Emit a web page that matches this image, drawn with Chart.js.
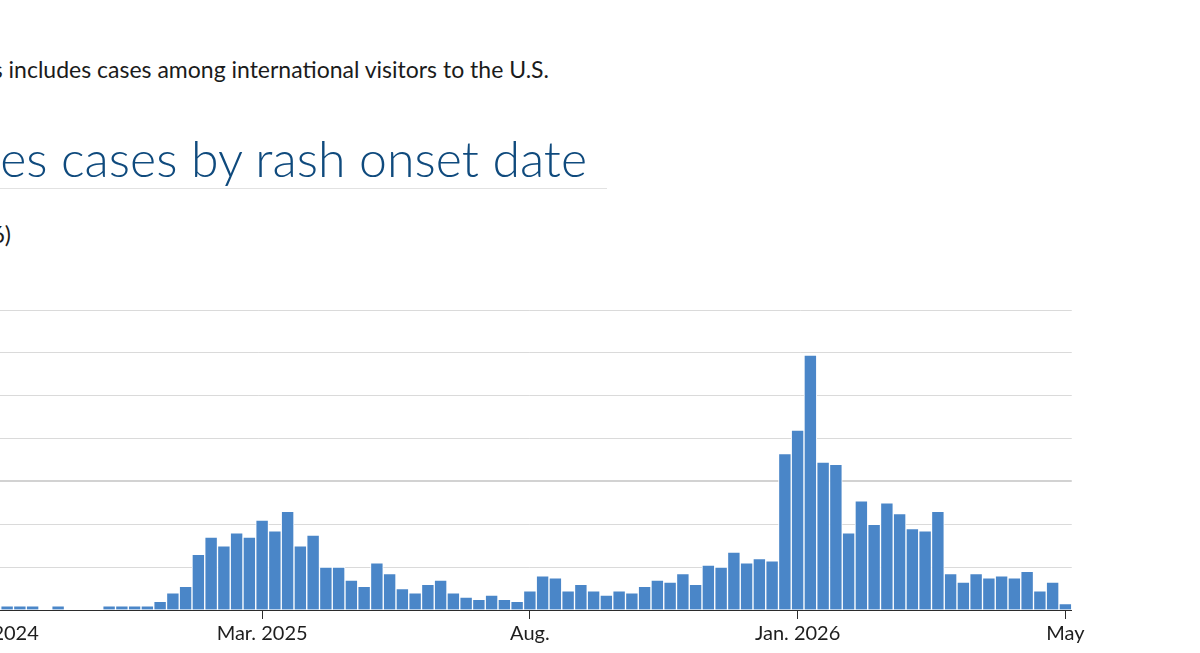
<!DOCTYPE html>
<html>
<head>
<meta charset="utf-8">
<script src="https://cdn.jsdelivr.net/npm/chart.js@4.4.1/dist/chart.umd.min.js"></script>
<style>
    html, body { margin: 0; padding: 0; background: #fff; }
    body { width: 1200px; height: 653px; overflow: hidden; position: relative; font-family: 'Lato', 'Open Sans', sans-serif; }
    .nota { position: absolute; right: 651px; top: 56px; font-size: 23px; line-height: 1.2; color: #1b1b1b; white-space: nowrap; }
    .titulo { position: absolute; right: 613px; top: 128px; font-size: 50px; line-height: 1.2; font-weight: 300; color: #0f4a7d; white-space: nowrap; }
    .linea { position: absolute; left: 0; top: 188px; width: 607px; height: 1px; background: #e2e2e2; }
    .subtitulo { position: absolute; right: 1189px; top: 221px; font-size: 23px; line-height: 1.2; color: #1b1b1b; white-space: nowrap; }
    #grafico { position: absolute; left: -72px; top: 290px; }
</style>
</head>
<body>
<div class="nota">This includes cases among international visitors to the U.S.</div>
<div class="titulo">Weekly measles cases by rash onset date</div>
<div class="linea"></div>
<div class="subtitulo">(October 2024 – May 2026)</div>
<canvas id="grafico" width="1204" height="365"></canvas>

<script>
// Semanas (inicio de semana, domingo)
const semanas = [
    '2024-10-20', '2024-10-27', '2024-11-03', '2024-11-10', '2024-11-17', '2024-11-24',
    '2024-12-01', '2024-12-08', '2024-12-15', '2024-12-22', '2024-12-29',
    '2025-01-05', '2025-01-12', '2025-01-19', '2025-01-26', '2025-02-02', '2025-02-09',
    '2025-02-16', '2025-02-23', '2025-03-02', '2025-03-09', '2025-03-16', '2025-03-23',
    '2025-03-30', '2025-04-06', '2025-04-13', '2025-04-20', '2025-04-27', '2025-05-04',
    '2025-05-11', '2025-05-18', '2025-05-25', '2025-06-01', '2025-06-08', '2025-06-15',
    '2025-06-22', '2025-06-29', '2025-07-06', '2025-07-13', '2025-07-20', '2025-07-27',
    '2025-08-03', '2025-08-10', '2025-08-17', '2025-08-24', '2025-08-31', '2025-09-07',
    '2025-09-14', '2025-09-21', '2025-09-28', '2025-10-05', '2025-10-12', '2025-10-19',
    '2025-10-26', '2025-11-02', '2025-11-09', '2025-11-16', '2025-11-23', '2025-11-30',
    '2025-12-07', '2025-12-14', '2025-12-21', '2025-12-28', '2026-01-04', '2026-01-11',
    '2026-01-18', '2026-01-25', '2026-02-01', '2026-02-08', '2026-02-15', '2026-02-22',
    '2026-03-01', '2026-03-08', '2026-03-15', '2026-03-22', '2026-03-29', '2026-04-05',
    '2026-04-12', '2026-04-19', '2026-04-26', '2026-05-03', '2026-05-10', '2026-05-17',
    '2026-05-24', '2026-05-31'
];

// Casos por semana
const casos = [
    1, 1, 1, 1, 0, 1, 0, 0, 0, 1, 1,
    1, 1, 2, 4, 5.5, 13, 17, 15, 18, 17, 21,
    18.5, 23, 15, 17.5, 10, 10, 7, 5.5, 11, 8.5, 5,
    4, 6, 7, 4, 3, 2.5, 3.5, 2.5, 2, 4.5,
    8, 7.5, 4.5, 6, 4.5, 3.5, 4.5, 4, 5.5, 7,
    6.5, 8.5, 6, 10.5, 10, 13.5, 11, 12, 11.5, 36.5,
    42, 59.5, 34.5, 34, 18, 25.5, 20, 25, 22.5, 19,
    18.5, 23, 8.5, 6.5, 8.5, 7.5, 8, 7.5, 9, 4.5,
    6.5, 1.5
];

// Etiquetas del eje X
const semanasEtiqueta = ['2024-10-20', '2025-03-16', '2025-08-10', '2026-01-04', '2026-05-31'];
const textosEtiqueta = ['Oct. 2024', 'Mar. 2025', 'Aug.', 'Jan. 2026', 'May'];

// Eje Y
const ejeYMax = 70;
const ejeYPaso = 10;
const valorLineaDestacada = 30;

const ctx = document.getElementById('grafico');

new Chart(ctx, {
    type: 'bar',
    data: {
        labels: semanas,
        datasets: [{
            label: 'Casos',
            data: casos,
            backgroundColor: '#4a86c8',
            borderColor: '#ffffff',
            borderWidth: { top: 1, left: 1, right: 1, bottom: 0 },
            barPercentage: 1,
            categoryPercentage: 1
        }]
    },
    options: {
        responsive: false,
        animation: false,
        layout: {
            padding: { left: 0, right: 60.25, top: 20, bottom: 0 }
        },
        plugins: {
            legend: { display: false },
            tooltip: { enabled: false }
        },
        scales: {
            x: {
                afterFit: (scale) => { scale.height = 45; },
                border: { display: true, color: '#2b2b2b', width: 1 },
                grid: {
                    display: true,
                    offset: false,
                    drawOnChartArea: false,
                    drawTicks: true,
                    tickLength: 9,
                    tickColor: '#2b2b2b',
                    tickWidth: 1
                },
                ticks: {
                    autoSkip: false,
                    maxRotation: 0,
                    padding: 3,
                    color: '#1e1e1e',
                    font: { family: 'Lato', size: 20 },
                    callback: function (valor, indice) {
                        const pos = semanasEtiqueta.indexOf(semanas[indice]);
                        return pos >= 0 ? textosEtiqueta[pos] : null;
                    }
                }
            },
            y: {
                min: 0,
                max: ejeYMax,
                afterFit: (scale) => { scale.width = 60; },
                border: { display: false },
                grid: {
                    drawTicks: false,
                    color: (c) => c.tick && c.tick.value === valorLineaDestacada ? '#d2d2d2' : '#dadada',
                    lineWidth: (c) => c.tick && c.tick.value === valorLineaDestacada ? 2 : 1
                },
                ticks: {
                    stepSize: ejeYPaso,
                    padding: 8,
                    color: '#1e1e1e',
                    font: { family: 'Lato', size: 16 }
                }
            }
        }
    }
});
</script>
</body>
</html>
